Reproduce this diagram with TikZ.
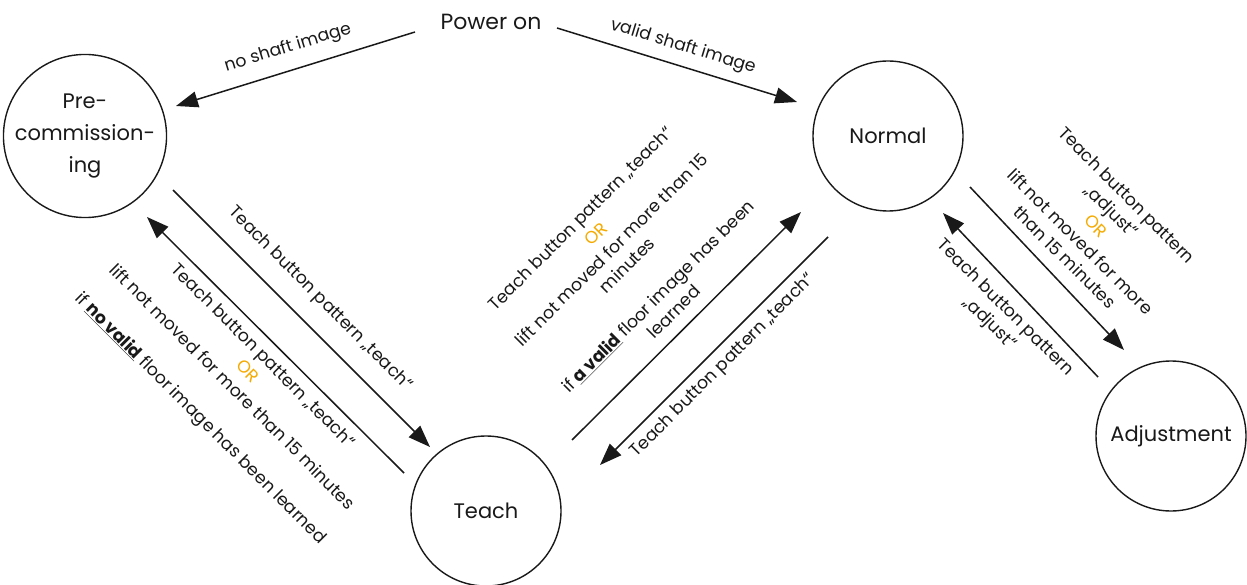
\documentclass[tikz,border=0pt]{standalone}
\usepackage{fontspec}
\setmainfont{Poppins}
\usepackage{tikz}
\usetikzlibrary{arrows.meta,calc}
\definecolor{stateblack}{RGB}{25,25,25}
\definecolor{orgold}{RGB}{245,170,0}

\begin{document}
\begin{tikzpicture}[
    x=1pt, y=-1pt,
    every node/.style={align=center, text=stateblack},
    state/.style={circle, draw=stateblack, line width=1.4pt, minimum size=150pt, inner sep=0pt, font=\fontsize{21}{32}\selectfont},
    edgelabel/.style={font=\fontsize{17.3}{22}\selectfont, inner sep=0pt},
    arrow/.style={-{Triangle[length=22pt,width=16pt]}, line width=1.5pt, draw=stateblack}
]
    \useasboundingbox (0,0) rectangle (1247,585);

    % states
    \node[font=\fontsize{22}{24}\selectfont] (power) at (491,22) {Power on};
    \node[state] (pre) at (85,136) {Pre-\\commission-\\ing};
    \node[state] (normal) at (888,136) {Normal};
    \node[state] (teach) at (486,511) {Teach};
    \node[state] (adjust) at (1171,436) {Adjustment};

    % transitions
    \draw[arrow] ($(power)+(-76,10)$) -- ($(pre)+(91,-30)$);
    \draw[arrow] ($(power)+(66,6)$) -- ($(normal)+(-91,-34)$);
    \draw[arrow] ($(pre)+(88,54)$) -- ($(teach)+(-56,-64)$);
    \draw[arrow] ($(teach)+(-82,-38)$) -- ($(pre)+(62,81)$);
    \draw[arrow] ($(teach)+(86,-71)$) -- ($(normal)+(-87,76)$);
    \draw[arrow] ($(normal)+(-60,101)$) -- ($(teach)+(114,-46)$);
    \draw[arrow] ($(normal)+(82,51)$) -- ($(adjust)+(-47,-86)$);
    \draw[arrow] ($(adjust)+(-73,-59)$) -- ($(normal)+(55,77)$);

    % labels
    \node[edgelabel, rotate=17] (noshaft) at (288,48) {no shaft image};
    \node[edgelabel, rotate=-17] (validshaft) at (683,47) {valid shaft image};
    \node[edgelabel, rotate=-45] (preteach) at (320,299) {Teach button pattern „teach“};
    \node[edgelabel, rotate=-45] (teachpre) at (231,388) {Teach button pattern „teach“\\
        {\color{orgold}OR}\\
        lift not moved for more than 15 minutes\\[22pt]
        if \underline{\textbf{no valid}} floor image has been learned};
    \node[edgelabel, rotate=45] (teachnormal) at (627,265) {Teach button pattern „teach“\\
        {\color{orgold}OR}\\
        lift not moved for more than 15\\
        minutes\\[22pt]
        if \underline{\textbf{a valid}} floor image has been\\
        learned};
    \node[edgelabel, rotate=45] (normalteach) at (723,366) {Teach button pattern „teach“};
    \node[edgelabel, rotate=-45] (normaladjust) at (1096,226) {Teach button pattern\\
        „adjust“\\
        {\color{orgold}OR}\\
        lift not moved for more\\
        than 15 minutes};
    \node[edgelabel, rotate=-45] (adjustnormal) at (997,316) {Teach button pattern\\
        „adjust“};
\end{tikzpicture}
\end{document}
